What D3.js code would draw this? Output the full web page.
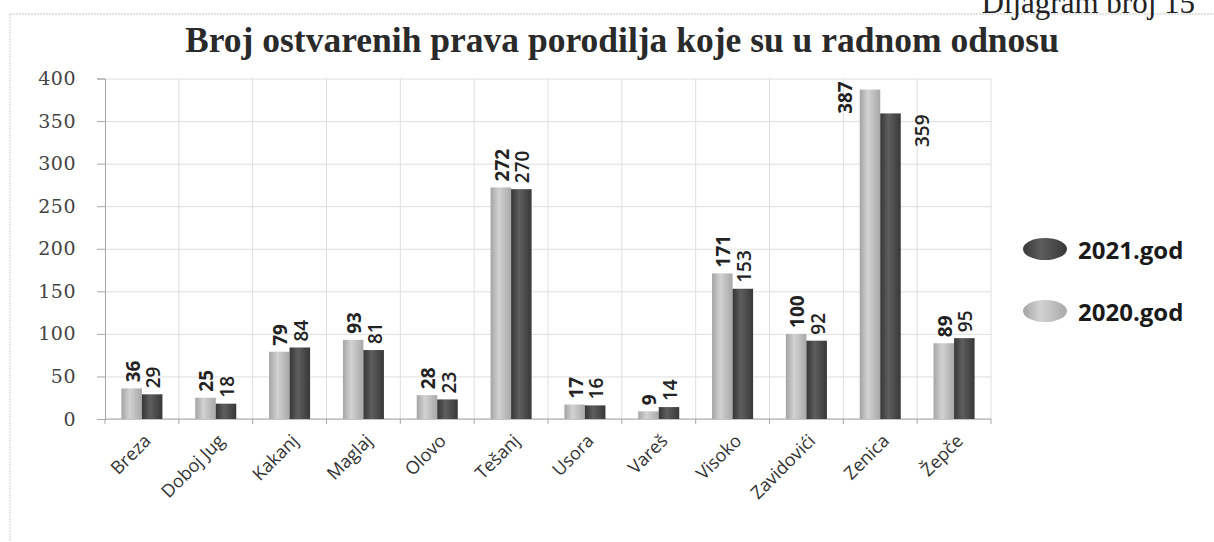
<!DOCTYPE html>
<html>
<head>
<meta charset="utf-8">
<script src="https://cdn.jsdelivr.net/npm/d3@7/dist/d3.min.js"></script>
<style>
  body { margin: 0; background: #fff; }
  svg { display: block; }
</style>
</head>
<body>
<svg id="chart"></svg>
<script>
const categories = ["Breza", "Doboj Jug", "Kakanj", "Maglaj", "Olovo", "Tešanj",
                    "Usora", "Vareš", "Visoko", "Zavidovići", "Zenica", "Žepče"];
const values2020 = [36, 25, 79, 93, 28, 272, 17, 9, 171, 100, 387, 89];
const values2021 = [29, 18, 84, 81, 23, 270, 16, 14, 153, 92, 359, 95];
const yTicks = [0, 50, 100, 150, 200, 250, 300, 350, 400];
const seriesNames = ["2020.god", "2021.god"];
const legendOrder = ["2021.god", "2020.god"];

const width = 1214;
const height = 542;
const plot = {left: 105, right: 991, top: 78.5, bottom: 419};

const colors = {"2020.god": ["#a4a4a4", "#d2d2d2", "#a8a8a8"],
                "2021.god": ["#363636", "#5e5e5e", "#383838"]};

const svg = d3.select("#chart")
  .attr("width", width)
  .attr("height", height);

// gradients to mimic the shaded bars
const defs = svg.append("defs");
seriesNames.forEach((s, i) => {
  const g = defs.append("linearGradient")
    .attr("id", "grad" + i)
    .attr("x1", "0%").attr("x2", "100%").attr("y1", "0%").attr("y2", "0%");
  g.append("stop").attr("offset", "0%").attr("stop-color", colors[s][0]);
  g.append("stop").attr("offset", "40%").attr("stop-color", colors[s][1]);
  g.append("stop").attr("offset", "100%").attr("stop-color", colors[s][2]);
});

// frame of the scanned chart
svg.append("line")
  .attr("x1", 10).attr("x2", width).attr("y1", 14).attr("y2", 14)
  .attr("stroke", "#c4c4c4").attr("stroke-dasharray", "2,1");
svg.append("line")
  .attr("x1", 10).attr("x2", 10).attr("y1", 14).attr("y2", height)
  .attr("stroke", "#d0d0d0").attr("stroke-dasharray", "2,1");

// page caption, partly cut by the top edge as in the scan
svg.append("text")
  .attr("x", 1195).attr("y", 13)
  .attr("text-anchor", "end")
  .style("font-family", "'Liberation Serif', 'Times New Roman', serif")
  .style("font-size", "31px")
  .attr("fill", "#222")
  .text("Dijagram broj 15");

svg.append("text")
  .attr("x", 622).attr("y", 52)
  .attr("text-anchor", "middle")
  .style("font-family", "'Liberation Serif', 'Times New Roman', serif")
  .style("font-weight", "bold")
  .style("font-size", "35.5px")
  .attr("fill", "#2a2a2a")
  .text("Broj ostvarenih prava porodilja koje su u radnom odnosu");

const x0 = d3.scaleBand()
  .domain(categories)
  .range([plot.left, plot.right]);

const x1 = d3.scaleBand()
  .domain(seriesNames)
  .range([0, x0.bandwidth()])
  .paddingOuter(0.8);

const y = d3.scaleLinear()
  .domain([0, 400])
  .range([plot.bottom, plot.top]);

// horizontal grid
svg.append("g")
  .attr("transform", `translate(${plot.left},0)`)
  .call(d3.axisLeft(y).tickValues(yTicks).tickSize(-(plot.right - plot.left)).tickFormat(""))
  .call(g => g.select(".domain").remove())
  .call(g => g.selectAll("line").attr("stroke", "#dedede"));

// vertical grid at category boundaries
const bounds = categories.map(c => x0(c)).concat([plot.right]);
svg.append("g")
  .selectAll("line")
  .data(bounds.slice(1))
  .enter()
  .append("line")
  .attr("x1", d => d).attr("x2", d => d)
  .attr("y1", plot.top).attr("y2", plot.bottom)
  .attr("stroke", "#dedede");

// y axis
svg.append("g")
  .attr("transform", `translate(${plot.left},0)`)
  .call(d3.axisLeft(y).tickValues(yTicks).tickSize(8).tickPadding(21))
  .call(g => g.select(".domain").attr("stroke", "#a8a8a8"))
  .call(g => g.selectAll(".tick line").attr("stroke", "#a8a8a8"))
  .call(g => g.selectAll("text")
    .style("font-family", "'DejaVu Serif', serif")
    .style("font-size", "19px")
    .style("letter-spacing", "0.5px")
    .attr("fill", "#444"));

// x axis
svg.append("line")
  .attr("x1", plot.left).attr("x2", plot.right)
  .attr("y1", plot.bottom).attr("y2", plot.bottom)
  .attr("stroke", "#a8a8a8");
svg.append("g")
  .selectAll("line")
  .data(bounds)
  .enter()
  .append("line")
  .attr("x1", d => d).attr("x2", d => d)
  .attr("y1", plot.bottom).attr("y2", plot.bottom + 5)
  .attr("stroke", "#a8a8a8");

svg.append("g")
  .selectAll("text")
  .data(categories)
  .enter()
  .append("text")
  .attr("transform", c => `translate(${x0(c) + x0.bandwidth() / 2 + 10},${plot.bottom + 23}) rotate(-45)`)
  .attr("text-anchor", "end")
  .style("font-family", "'Open Sans', sans-serif")
  .style("font-size", "18px")
  .attr("fill", "#333")
  .text(c => c);

// bars
const rows = categories.map((c, i) => ({
  category: c,
  values: [{series: "2020.god", value: values2020[i]},
           {series: "2021.god", value: values2021[i]}]
}));

const groups = svg.append("g")
  .selectAll("g")
  .data(rows)
  .enter()
  .append("g")
  .attr("transform", d => `translate(${x0(d.category)},0)`);

groups.selectAll("rect")
  .data(d => d.values)
  .enter()
  .append("rect")
  .attr("x", d => x1(d.series))
  .attr("y", d => y(d.value))
  .attr("width", x1.bandwidth())
  .attr("height", d => y(0) - y(d.value))
  .attr("fill", d => "url(#grad" + seriesNames.indexOf(d.series) + ")");

// data labels, rotated; moved beside the bar when they would leave the plot
const digitW = 11.2;
const overflows = d => y(d.value) - 6 - String(d.value).length * digitW < plot.top;

groups.selectAll("text")
  .data(d => d.values)
  .enter()
  .append("text")
  .attr("transform", d => {
    const top = y(d.value);
    const left = x1(d.series);
    if (overflows(d)) {
      if (d.series === "2020.god") return `translate(${left - 15},${top + 8}) rotate(-90)`;
      return `translate(${left + x1.bandwidth() + 21},${top + 1}) rotate(-90)`;
    }
    return `translate(${left + x1.bandwidth() / 2 + 1},${top - 6}) rotate(-90)`;
  })
  .attr("text-anchor", d => {
    if (overflows(d)) return d.series === "2020.god" ? "middle" : "end";
    return "start";
  })
  .attr("dominant-baseline", "central")
  .style("font-family", "'Open Sans', sans-serif")
  .style("font-size", "19px")
  .style("font-weight", d => d.series === "2020.god" ? "bold" : "600")
  .attr("fill", "#222")
  .text(d => d.value);

// legend
const legend = svg.append("g")
  .selectAll("g")
  .data(legendOrder)
  .enter()
  .append("g")
  .attr("transform", (s, i) => `translate(1045,${249 + i * 62})`);

legend.append("ellipse")
  .attr("rx", 22).attr("ry", 11)
  .attr("fill", s => "url(#grad" + seriesNames.indexOf(s) + ")");

legend.append("text")
  .attr("x", 33)
  .attr("dominant-baseline", "central")
  .style("font-family", "'Open Sans', sans-serif")
  .style("font-weight", "bold")
  .style("font-size", "24px")
  .attr("fill", "#1a1a1a")
  .text(s => s);
</script>
</body>
</html>
